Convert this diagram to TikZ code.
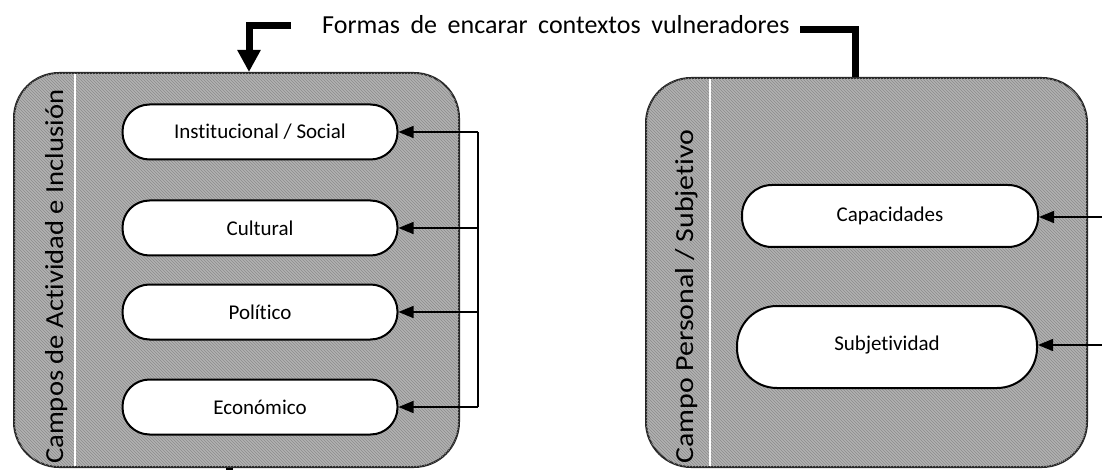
\documentclass[tikz,border=0pt]{standalone}
\usepackage{fontspec}
\setmainfont[Ligatures=NoCommon]{Carlito}
\newfontfamily\titulofont[WordSpace=1.8,Ligatures=NoCommon]{Carlito}
\usetikzlibrary{arrows.meta,patterns,positioning}

\tikzset{
  campo/.style={draw=black!85, line width=2pt, rounded corners=45pt, fill=black!30,
    postaction={pattern=north west lines, pattern color=black!45}},
  esfera/.style={draw, line width=2pt, fill=white, rounded corners=27pt,
    minimum width=275pt, minimum height=55pt, font=\fontsize{21}{25}\selectfont},
  flecha/.style={line width=1.5pt, -{Triangle[length=15pt,width=12pt]}},
  grueso/.style={line width=7pt},
  rotulo/.style={rotate=90, anchor=base west, inner sep=0pt, font=\fontsize{26}{30}\selectfont}
}

\begin{document}
\begin{tikzpicture}[x=1pt,y=-1pt]
	\useasboundingbox (0,0) rectangle (1102,470);

	% campos
	\node[campo, minimum width=445pt, minimum height=394pt] (campoA) at (236.5,270) {};
	\node[campo, minimum width=441pt, minimum height=389pt] (campoB) at (866.5,272.5) {};
	\draw[white, line width=2.5pt] (75,74) -- (75,466);
	\draw[white, line width=2.5pt] (710,79) -- (710,466);

	\node[rotulo] (lblA) at (63,464) {\scalebox{1.1}[1]{Campos de Actividad e Inclusión}};
	\node[rotulo] (lblB) at (693,464) {\scalebox{1.15}[1]{Campo Personal / Subjetivo}};

	\node[esfera] (inst) at (260,132) {Institucional / Social};
	\node[esfera] (cult) at (260,228) {Cultural};
	\node[esfera] (poli) at (260,312) {Político};
	\node[esfera] (econ) at (260,407) {Económico};

	\node[esfera, minimum width=296pt, minimum height=62pt, rounded corners=30pt] (capa) at (890,216) {Capacidades};
	\node[esfera, minimum width=300pt, minimum height=82pt, rounded corners=40pt] (subj) at (887,347) {\raisebox{8pt}{Subjetividad}};

	% flechas
	\coordinate (bus) at (478,0);
	\draw[line width=1.5pt] (bus |- inst.east) -- (bus |- econ.east);
	\foreach \n in {inst,cult,poli,econ} {{
	     \draw[flecha] (bus |- \n.east) -- (\n.east);
	}}
	\coordinate (pc) at (1110,217);
	\coordinate (ps) at (1110,345);
	\draw[flecha] (pc) -- (capa.east |- pc);
	\draw[flecha] (ps) -- (subj.east |- ps);

	\node[anchor=base west, inner sep=0pt, font={\titulofont\fontsize{26}{30}\selectfont}] (titulo) at (322,34) {Formas de encarar contextos vulneradores};
	\coordinate (ga) at (291,26);
	\coordinate (gb) at (800,30);
	\coordinate (gc) at (229,480);
	\draw[grueso, -{Triangle[length=22pt,width=22pt]}] (ga) -| ([xshift=12.5pt]campoA.north);
	\draw[grueso] (gb) -| ([xshift=-11pt]campoB.north);
	\draw[grueso] ([xshift=-7.5pt]campoA.south) -- (gc);
\end{tikzpicture}
\end{document}
